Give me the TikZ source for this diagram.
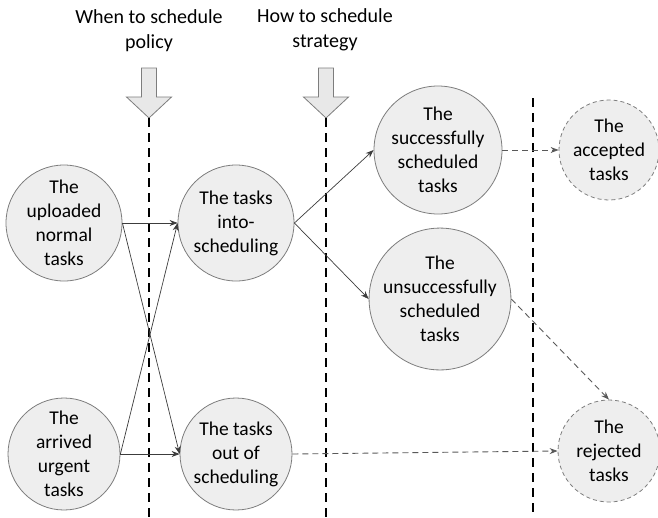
\documentclass[tikz,border=0pt]{standalone}
\usepackage{fontspec}
\setmainfont{Carlito}
\usetikzlibrary{arrows.meta}
\definecolor{cfill}{RGB}{238,238,238}
\definecolor{cline}{RGB}{125,125,125}
\definecolor{carrow}{RGB}{60,60,60}
\definecolor{bfill}{RGB}{232,232,232}
\tikzset{
  taskcirc/.style={circle, draw=cline, fill=cfill, line width=0.8pt, inner sep=0pt, align=center,
    font=\fontsize{19.5}{24}\selectfont},
  endcirc/.style={taskcirc, dash pattern=on 4pt off 3pt},
  solidconn/.style={draw=carrow, line width=0.7pt, -{Stealth[length=8pt,width=6pt]}},
  dashconn/.style={draw=carrow!85, line width=0.9pt, dash pattern=on 6pt off 4pt, -{Stealth[length=8pt,width=6pt]}},
  divider/.style={draw=black, line width=2pt, dash pattern=on 9pt off 6pt},
  blockarrow/.style={draw=cline, fill=bfill, line width=0.8pt, line join=miter},
  titletext/.style={align=center, font=\fontsize{20}{25}\selectfont, inner sep=0pt}
}
\begin{document}
\begin{tikzpicture}[x=1pt,y=-1pt]
\useasboundingbox (0,0) rectangle (658,517);

% titles
\node[titletext] (t1) at (149,31) {When to schedule\\policy};
\node[titletext] (t2) at (325,30) {How to schedule\\strategy};

% block arrows
\draw[blockarrow] (141.5,68) -- (156.5,68) -- (156.5,97) -- (171.5,97) -- (149,118) -- (126.5,97) -- (141.5,97) -- cycle;
\draw[blockarrow] (318.5,68) -- (333.5,68) -- (333.5,97) -- (348.5,97) -- (326,118) -- (303.5,97) -- (318.5,97) -- cycle;

% dividers
\coordinate (d1t) at (149,118); \coordinate (d1b) at (149,517);
\coordinate (d2t) at (326,118); \coordinate (d2b) at (326,517);
\coordinate (d3t) at (533,98);  \coordinate (d3b) at (533,517);
\draw[divider] (d1t) -- (d1b);
\draw[divider] (d2t) -- (d2b);
\draw[divider] (d3t) -- (d3b);

% nodes
\node[taskcirc, minimum size=116pt] (up) at (64,223) {The\\uploaded\\normal\\tasks};
\node[taskcirc, minimum size=116pt] (into) at (236,223) {The tasks\\into-\\scheduling};
\node[taskcirc, minimum size=112pt] (urg) at (64,454) {The\\arrived\\urgent\\tasks};
\node[taskcirc, minimum size=112pt] (out) at (236,454) {The tasks\\out of\\scheduling};
\node[taskcirc, minimum size=128pt] (succ) at (438,150) {The\\successfully\\scheduled\\tasks};
\node[taskcirc, minimum size=126pt] (unsucc) at (440,299) {The\\unsuccessfully\\scheduled\\tasks};
\node[endcirc, minimum size=100pt] (acc) at (609,150) {The\\accepted\\tasks};
\node[endcirc, minimum size=102pt] (rej) at (609,451) {The\\rejected\\tasks};

% connectors
\draw[solidconn] (up.east) -- (into.west);
\draw[solidconn] (up.east) -- (out.west);
\draw[solidconn] (urg.east) -- (out.west);
\draw[solidconn] (urg.east) -- (into.west);
\draw[solidconn] (into.east) -- (succ.west);
\draw[solidconn] (into.east) -- (unsucc.west);
\draw[dashconn] (succ.east) -- (acc.west);
\draw[dashconn] (unsucc.east) -- (rej.north);
\draw[dashconn] (out.east) -- (rej.west);
\end{tikzpicture}
\end{document}
